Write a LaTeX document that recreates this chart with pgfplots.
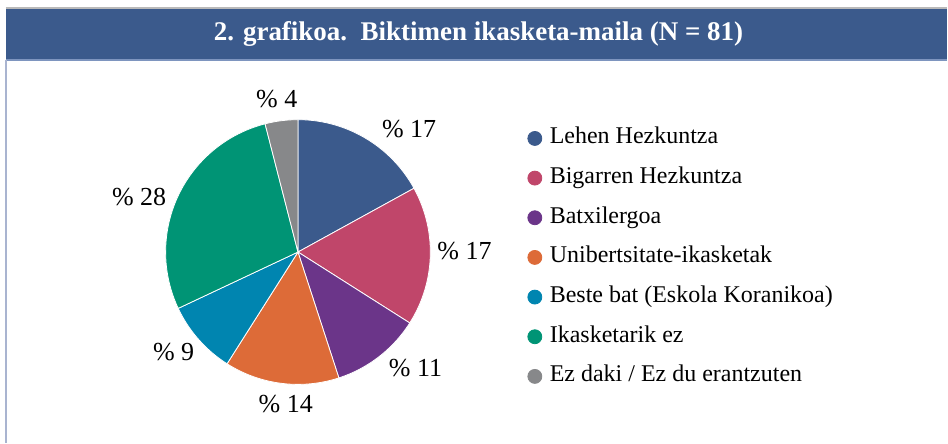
\documentclass[border=0pt]{standalone}
\usepackage{pgfplots}
\pgfplotsset{compat=1.18}
\usepackage{fontspec}
\setmainfont{Liberation Serif}
\definecolor{cA}{HTML}{3B5A8C}
\definecolor{cB}{HTML}{C0466A}
\definecolor{cC}{HTML}{6B3589}
\definecolor{cD}{HTML}{DD6B38}
\definecolor{cE}{HTML}{0085B0}
\definecolor{cF}{HTML}{009475}
\definecolor{cG}{HTML}{87888A}
\definecolor{barline}{HTML}{7E95BF}
\definecolor{frameline}{HTML}{A9B4D0}
% pie centre and radius (pixel units)
\def\cx{298.3}\def\cy{190.7}\def\rr{132.5}
% #1 cumulative percent before slice, #2 percent of slice, #3 colour
\newcommand{\slice}[3]{%
  \pgfmathsetmacro\angA{90-3.6*(#1+#2)}%
  \pgfmathsetmacro\angB{90-3.6*#1}%
  \edef\tmp{\noexpand\addplot[fill=#3, draw=white, line width=0.4pt, domain=\angA:\angB, samples=80, forget plot]
    ({\cx+\rr*cos(x)},{\cy+\rr*sin(x)}) -- (axis cs:\cx,\cy) -- cycle;}%
  \tmp}
\begin{document}
\begin{tikzpicture}
\begin{axis}[
  x=0.5pt, y=0.5pt,
  xmin=0, xmax=948, ymin=0, ymax=443,
  hide axis, clip=false,
  legend image code/.code={\draw[#1] plot coordinates {(0pt,0pt)};},
  legend style={at={(axis cs:522,319.3)}, anchor=north west, draw=none, fill=none,
    font=\fontsize{12}{14}\selectfont, row sep=9.35pt, column sep=4pt,
    nodes={inner sep=0pt, text height=8pt, text depth=2.5pt}},
  legend cell align=left,
]
\fill[white] (axis cs:0,0) rectangle (axis cs:948,443);
% title bar
\fill[cA] (axis cs:6,383) rectangle (axis cs:948,434);
\draw[gray!55, line width=1pt] (axis cs:6,435) -- (axis cs:948,435);
\draw[barline, line width=0.6pt] (axis cs:6,383) -- (axis cs:948,383);
\draw[frameline, line width=1pt] (axis cs:6.5,0) -- (axis cs:6.5,383);
\node[white, font=\fontsize{13.5}{15}\selectfont\bfseries] at (axis cs:479,408.5)
  {2. grafikoa.\ \ Biktimen ikasketa-maila (N = 81)};
% pie slices
\slice{0}{17}{cA}
\slice{17}{17}{cB}
\slice{34}{11}{cC}
\slice{45}{14}{cD}
\slice{59}{9}{cE}
\slice{68}{28}{cF}
\slice{96}{4}{cG}
% value labels
\begin{scope}[every node/.style={font=\fontsize{13}{15}\selectfont, inner sep=0pt}]
\node at (axis cs:409.5,314) {\% 17};
\node at (axis cs:465,192) {\% 17};
\node at (axis cs:416,74.3) {\% 11};
\node at (axis cs:286,39) {\% 14};
\node at (axis cs:173.8,90.5) {\% 9};
\node at (axis cs:139.3,245.5) {\% 28};
\node at (axis cs:277,344) {\% 4};
\end{scope}
% legend
\addlegendimage{only marks, mark=*, mark size=3.5pt, color=cA}
\addlegendentry{Lehen Hezkuntza}
\addlegendimage{only marks, mark=*, mark size=3.5pt, color=cB}
\addlegendentry{Bigarren Hezkuntza}
\addlegendimage{only marks, mark=*, mark size=3.5pt, color=cC}
\addlegendentry{Batxilergoa}
\addlegendimage{only marks, mark=*, mark size=3.5pt, color=cD}
\addlegendentry{Unibertsitate-ikasketak}
\addlegendimage{only marks, mark=*, mark size=3.5pt, color=cE}
\addlegendentry{Beste bat (Eskola Koranikoa)}
\addlegendimage{only marks, mark=*, mark size=3.5pt, color=cF}
\addlegendentry{Ikasketarik ez}
\addlegendimage{only marks, mark=*, mark size=3.5pt, color=cG}
\addlegendentry{Ez daki / Ez du erantzuten}
\end{axis}
\end{tikzpicture}
\end{document}
